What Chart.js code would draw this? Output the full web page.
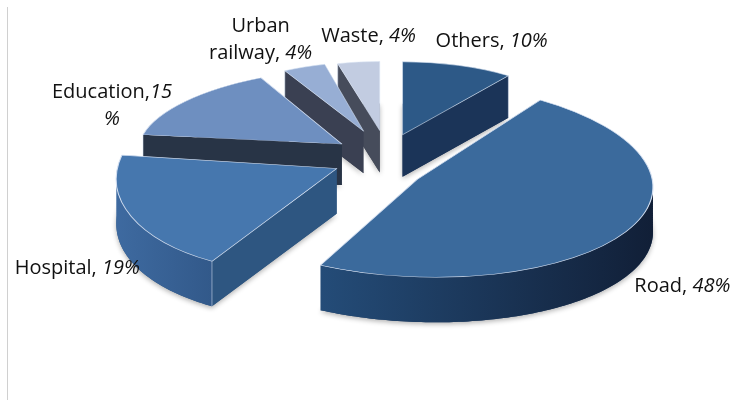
<!DOCTYPE html>
<html><head><meta charset="utf-8">
<script src="https://cdn.jsdelivr.net/npm/chart.js@4.4.1/dist/chart.umd.min.js"></script>
<style>html,body{margin:0;padding:0;background:#fff;}#c{display:block;}</style>
</head><body>
<canvas id="c" width="730" height="400"></canvas>
<script>
// ---- data ----
const categories = ['Others', 'Road', 'Hospital', 'Education', 'Urban railway', 'Waste'];
const shares = [10, 48, 19, 15, 4, 4];

// ---- styles ----
const topColors = ['#2d5987', '#3b6a9c', '#4677ae', '#6e8fc0', '#97aed4', '#c2cce1'];
const wallStyles = [
  { outer: ['#1d3a60', '#1b3458'], start: '#1b3458', end: '#1b3458' },
  { outer: ['#244c78', '#111f37'], start: '#1d3a60', end: '#1d3a60' },
  { outer: ['#3e6aa0', '#32598a'], start: '#2e5681', end: '#2e5681' },
  { outer: ['#2b3749', '#283446'], start: '#283446', end: '#283446' },
  { outer: ['#3a4052', '#3a4052'], start: '#3a4052', end: '#3a4052' },
  { outer: ['#464c5b', '#464c5b'], start: '#464c5b', end: '#464c5b' }
];
// projection: base ellipse + per-slice perspective (scaleX, scaleY, skew)
const CENTER = { x: 380, y: 160 };
const RADIUS = 218;
const TILT = 0.46;
const EXPLODE = [60, 50, 45, 46, 58, 58];
const SHIFT = [[4, 1], [-5, 7], [-3, -1], [0, -4], [5, -4], [7, -3]];
const PERSP = [[0.826, 0.728, 0], [1.078, 0.977, 18.8], [1.007, 1.057, -21.9], [0.931, 0.754, -19.3], [0.78, 0.688, -3.5], [0.775, 0.688, 0]];
const DEPTHS = [42, 45, 45, 41, 42, 42];
const FONT_PX = 20;
const FONT_FAMILY = '"Open Sans", sans-serif';
const LINE_H = 27;
const LABEL_NUDGE = [[-22.6, -23.6, 'left'], [8.6, 54.5, 'left'], [8.5, 52, 'right'], [-73, 4.5, 'center'], [-43.7, -26.8, 'center'], [10, -25.5, 'center']];
const LABEL_WRAP = ['none', 'none', 'none', 'number', 'word', 'none'];

function labelLines(i) {
  const name = categories[i], v = shares[i];
  const mode = LABEL_WRAP[i];
  if (mode === 'number') return [[{ t: name + ',', it: false }, { t: String(v), it: true }], [{ t: '%', it: true }]];
  if (mode === 'word') {
    const k = name.indexOf(' ');
    return [[{ t: name.slice(0, k), it: false }], [{ t: name.slice(k + 1) + ', ', it: false }, { t: v + '%', it: true }]];
  }
  return [[{ t: name + ', ', it: false }, { t: v + '%', it: true }]];
}

function rimPoint(g, a, dy) {
  const u = Math.cos(a), v = Math.sin(a);
  return [g.P.x + g.A * u + g.B * v, g.P.y + g.C * v + (dy || 0)];
}

function arcPts(g, a1, a2, dy) {
  const n = Math.max(2, Math.ceil(Math.abs(a2 - a1) / 0.02));
  const pts = [];
  for (let j = 0; j <= n; j++) pts.push(rimPoint(g, a1 + (a2 - a1) * j / n, dy));
  return pts;
}

function faceVisible(g, a, inward) {
  const E = rimPoint(g, a);
  const W = rimPoint(g, a + inward * 0.05);
  const ex = E[0] - g.P.x, ey = E[1] - g.P.y;
  const wx = W[0] - g.P.x, wy = W[1] - g.P.y;
  if (Math.abs(ex) < 1e-6) return false;
  const n = ex > 0 ? [-ey, ex] : [ey, -ex];
  return (wx * n[0] + wy * n[1]) < 0;
}

function drawWalls(ctx, g) {
  const { el, P, i } = g;
  const s = el.startAngle, e = el.endAngle;
  const c = wallStyles[i];
  const D = DEPTHS[i];
  // soft shadow under the slice
  ctx.save();
  ctx.shadowColor = 'rgba(0,0,0,0.3)';
  ctx.shadowBlur = 5;
  ctx.shadowOffsetY = 2;
  ctx.beginPath();
  ctx.moveTo(P.x, P.y + D);
  arcPts(g, s, e, D).forEach(p => ctx.lineTo(p[0], p[1]));
  ctx.closePath();
  ctx.fillStyle = c.start;
  ctx.fill();
  ctx.restore();

  ctx.save();
  const face = (a, col) => {
    const E = rimPoint(g, a);
    ctx.beginPath();
    ctx.moveTo(P.x, P.y);
    ctx.lineTo(E[0], E[1]);
    ctx.lineTo(E[0], E[1] + D);
    ctx.lineTo(P.x, P.y + D);
    ctx.closePath();
    ctx.fillStyle = col;
    ctx.fill();
  };
  const startVis = faceVisible(g, s, 1), endVis = faceVisible(g, e, -1);
  if (startVis) face(s, c.start);
  if (endVis) face(e, c.end);
  const phi0 = Math.atan2(g.B, g.A);
  const a1 = Math.max(s, phi0), a2 = Math.min(e, phi0 + Math.PI);
  if (a2 > a1) {
    const top = arcPts(g, a1, a2, 0);
    const bot = arcPts(g, a2, a1, D);
    const xs = top.map(p => p[0]);
    const grd = ctx.createLinearGradient(Math.min(...xs), 0, Math.max(...xs), 0);
    grd.addColorStop(0, c.outer[0]);
    grd.addColorStop(1, c.outer[1]);
    ctx.beginPath();
    top.concat(bot).forEach((p, j) => j ? ctx.lineTo(p[0], p[1]) : ctx.moveTo(p[0], p[1]));
    ctx.closePath();
    ctx.fillStyle = grd;
    ctx.fill();
  }
  ctx.strokeStyle = 'rgba(215,225,240,0.55)';
  ctx.lineWidth = 1;
  [[s, startVis], [e, endVis]].forEach(([a, vis]) => {
    if (vis) {
      const E = rimPoint(g, a);
      ctx.beginPath();
      ctx.moveTo(E[0], E[1]);
      ctx.lineTo(E[0], E[1] + D);
      ctx.stroke();
    }
  });
  ctx.restore();
}

function drawTop(ctx, g) {
  const r0 = g.el.outerRadius;
  ctx.save();
  ctx.translate(g.P.x, g.P.y);
  ctx.transform(g.A / r0, 0, g.B / r0, g.C / r0, 0, 0);
  ctx.translate(-g.el.x, -g.el.y);
  g.el.draw(ctx);
  ctx.restore();
}

function drawLabels(ctx, geo) {
  ctx.save();
  ctx.fillStyle = '#111';
  ctx.textBaseline = 'middle';
  ctx.textAlign = 'left';
  geo.forEach(g => {
    const i = g.i;
    const lines = labelLines(i);
    const O = rimPoint(g, g.m);
    const [dx, dy, align] = LABEL_NUDGE[i];
    const ax = O[0] + dx, ay = O[1] + dy;
    const n = lines.length;
    lines.forEach((segs, li) => {
      const y = ay + (li - (n - 1) / 2) * LINE_H;
      let w = 0;
      const ws = segs.map(sg => {
        ctx.font = (sg.it ? 'italic ' : '') + FONT_PX + 'px ' + FONT_FAMILY;
        const m = ctx.measureText(sg.t).width;
        w += m;
        return m;
      });
      let x = align === 'left' ? ax : align === 'right' ? ax - w : ax - w / 2;
      segs.forEach((sg, si) => {
        ctx.font = (sg.it ? 'italic ' : '') + FONT_PX + 'px ' + FONT_FAMILY;
        ctx.fillText(sg.t, x, y);
        x += ws[si];
      });
    });
  });
  ctx.restore();
}

const pie3d = {
  id: 'pie3d',
  beforeDraw(chart) {
    const ctx = chart.ctx;
    ctx.save();
    ctx.strokeStyle = '#d0d0d0';
    ctx.lineWidth = 1;
    ctx.beginPath();
    ctx.moveTo(7.5, 7);
    ctx.lineTo(7.5, 400);
    ctx.stroke();
    ctx.restore();
  },
  beforeDatasetsDraw(chart) {
    const ctx = chart.ctx;
    const meta = chart.getDatasetMeta(0);
    const geo = meta.data.map((el, i) => {
      const m = (el.startAngle + el.endAngle) / 2;
      const P = {
        x: CENTER.x + EXPLODE[i] * Math.cos(m) + SHIFT[i][0],
        y: CENTER.y + EXPLODE[i] * TILT * Math.sin(m) + SHIFT[i][1]
      };
      const [sx, sy, sk] = PERSP[i];
      return { el, i, m, P, A: RADIUS * sx, C: RADIUS * TILT * sy, B: sk };
    });
    const order = geo.slice().sort((a, b) => a.P.y - b.P.y);
    order.forEach(g => { drawWalls(ctx, g); drawTop(ctx, g); });
    drawLabels(ctx, geo);
    return false;
  }
};

new Chart(document.getElementById('c'), {
  type: 'pie',
  data: {
    labels: categories,
    datasets: [{
      data: shares,
      backgroundColor: topColors,
      borderColor: 'rgba(215,226,242,0.95)',
      borderWidth: 1,
      offset: 0
    }]
  },
  options: {
    responsive: false,
    devicePixelRatio: 1,
    animation: false,
    events: [],
    layout: { padding: 0 },
    plugins: { legend: { display: false }, tooltip: { enabled: false } }
  },
  plugins: [pie3d]
});
</script>
</body></html>
